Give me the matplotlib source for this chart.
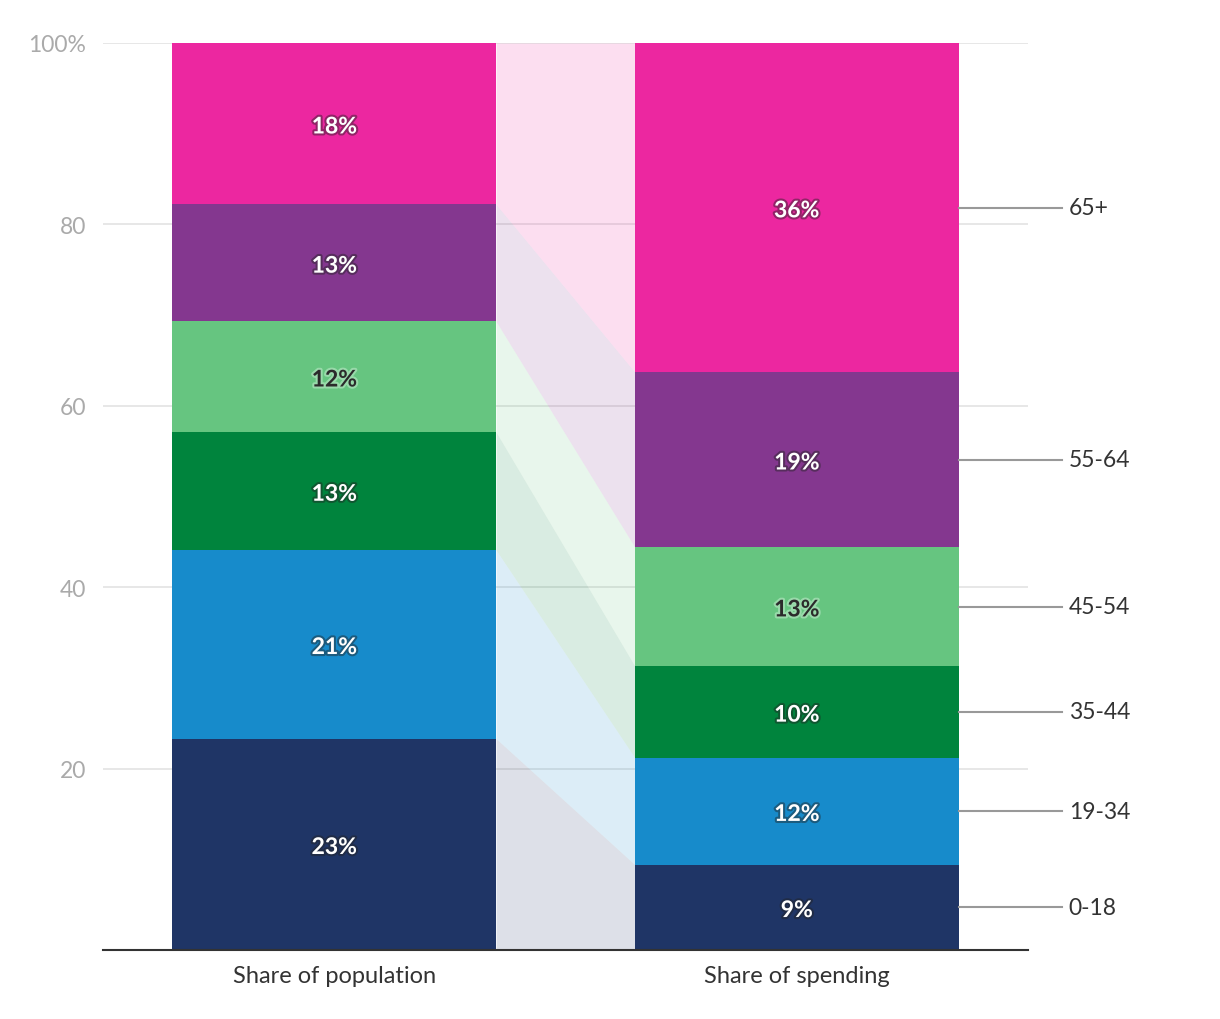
import matplotlib
matplotlib.use("Agg")
import matplotlib.pyplot as plt
import matplotlib.patheffects as pe
import numpy as np

plt.rcParams['font.family'] = ['Lato', 'DejaVu Sans']

# data
groups = ['0-18', '19-34', '35-44', '45-54', '55-64', '65+']
bars = ['Share of population', 'Share of spending']
population = [23.3, 20.8, 13.0, 12.2, 12.9, 17.8]
spending = [9.4, 11.8, 10.1, 13.1, 19.3, 36.3]
pop_labels = ['23%', '21%', '13%', '12%', '13%', '18%']
spend_labels = ['9%', '12%', '10%', '13%', '19%', '36%']
colors = ['#1f3566', '#178bcb', '#00843d', '#66c580', '#84378f', '#ec27a0']
yticks = [20, 40, 60, 80, 100]
ytick_labels = ['20', '40', '60', '80', '100%']

fig = plt.figure(figsize=(12.2, 10.2), dpi=100)
ax = fig.add_axes([103 / 1220, 69 / 1020, 925 / 1220, 907 / 1020])

width = 0.7
x = np.arange(len(bars))
series = [population, spending]
labels = [pop_labels, spend_labels]

bottoms = [np.concatenate([[0], np.cumsum(s)[:-1]]) for s in series]
tops = [np.cumsum(s) for s in series]

# grid
for t in yticks:
    ax.axhline(t, color='#e3e3e3', lw=1.2, zorder=0)

# bars
for i in range(len(bars)):
    ax.bar(x[i], series[i], width=width, bottom=bottoms[i], color=colors,
           edgecolor='none', zorder=2)

# connecting bands
xl = x[0] + width / 2
xr = x[1] - width / 2
for g in range(len(groups)):
    ax.fill_between([xl, xr], [bottoms[0][g], bottoms[1][g]], [tops[0][g], tops[1][g]],
                    color=colors[g], alpha=0.15, lw=0, zorder=1)

# value labels
for i in range(len(bars)):
    for g in range(len(groups)):
        mid = bottoms[i][g] + series[i][g] / 2
        if colors[g] == '#66c580':
            tc, gc = '#2b2b2b', '#d8f5df'
        else:
            tc, gc = 'white', '#222222'
        ax.text(x[i], mid - 0.35, labels[i][g], ha='center', va='center', fontsize=16.5,
                fontweight='bold', color=tc, zorder=3,
                path_effects=[pe.withStroke(linewidth=3, foreground=gc, alpha=0.45)])

# leader lines and group labels on the right
for g in range(len(groups)):
    mid = bottoms[1][g] + series[1][g] / 2
    ax.plot([x[1] + width / 2, 1.5725], [mid, mid], color='#999999', lw=1.5,
            clip_on=False, zorder=3)
    ax.text(1.588, mid, groups[g], ha='left', va='center', fontsize=16.5,
            color='#333333', clip_on=False)

ax.set_xlim(-0.5, 1.5)
ax.set_ylim(0, 100)
ax.set_xticks(x)
ax.set_xticklabels(bars, fontsize=17, color='#333333')
ax.set_yticks(yticks)
ax.set_yticklabels(ytick_labels, fontsize=16.5, color='#aaaaaa')
ax.tick_params(axis='both', length=0)
ax.tick_params(axis='x', pad=11)
ax.tick_params(axis='y', pad=12)
for s in ['top', 'right', 'left']:
    ax.spines[s].set_visible(False)
ax.spines['bottom'].set_color('#333333')
ax.spines['bottom'].set_linewidth(1.5)
ax.spines['bottom'].set_zorder(4)

fig.savefig('out.png', dpi=100, facecolor='white')
